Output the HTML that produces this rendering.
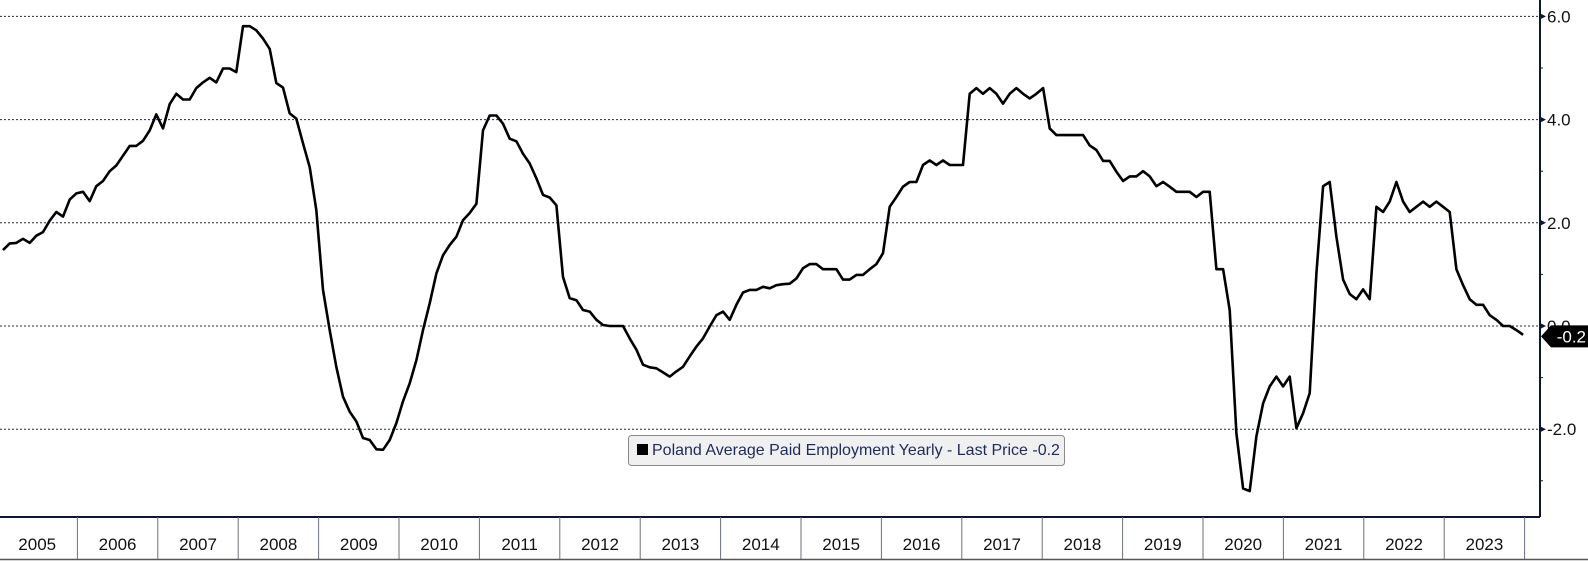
<!DOCTYPE html>
<html><head><meta charset="utf-8"><style>
html,body{margin:0;padding:0;background:#fff;}
svg{display:block;font-family:"Liberation Sans",sans-serif;}
</style></head><body>
<svg id="chart" width="1588" height="561" viewBox="0 0 1588 561" xmlns="http://www.w3.org/2000/svg">
<g id="grid"></g>
<g id="yaxis"></g>
<g id="xaxis"></g>
<path id="line" fill="none" stroke="#000" stroke-width="2.6" stroke-linejoin="round"/>
<g id="tag"></g>
<g>
<rect x="628.5" y="435.5" width="436" height="30" rx="3" fill="#f0f0f0" stroke="#8a8a8a"/>
<rect x="637" y="444" width="11" height="11" fill="#000"/>
<text x="652" y="455" font-size="16" fill="#1d2b5c">Poland Average Paid Employment Yearly - Last Price -0.2</text>
</g>
</svg>
<script>
const years = ["2005","2006","2007","2008","2009","2010","2011","2012","2013","2014","2015","2016","2017","2018","2019","2020","2021","2022","2023"];
const yTicks = [6, 4, 2, 0, -2];
const yTickLabels = ["6.0","4.0","2.0","0.0","-2.0"];
const lastValue = -0.2;
const lastLabel = "-0.2";
const values = [
1.47,1.6,1.61,1.69,1.61,1.75,1.82,2.04,2.21,2.12,2.45,2.57,
2.6,2.42,2.71,2.81,3.0,3.11,3.3,3.49,3.49,3.59,3.79,4.1,
3.83,4.3,4.5,4.39,4.39,4.61,4.72,4.81,4.72,4.99,4.99,4.92,
5.81,5.81,5.73,5.57,5.37,4.71,4.62,4.12,4.02,3.54,3.08,2.25,
0.7,-0.08,-0.79,-1.37,-1.66,-1.85,-2.17,-2.21,-2.39,-2.4,-2.21,-1.88,
-1.46,-1.11,-0.66,-0.08,0.44,1.02,1.37,1.57,1.73,2.05,2.19,2.37,
3.79,4.08,4.08,3.92,3.63,3.58,3.34,3.15,2.86,2.54,2.49,2.34,
0.95,0.54,0.5,0.31,0.28,0.12,0.02,0,0,0,-0.24,-0.46,
-0.75,-0.8,-0.82,-0.9,-0.98,-0.88,-0.79,-0.59,-0.4,-0.24,-0.01,0.21,
0.28,0.12,0.41,0.65,0.7,0.7,0.76,0.73,0.79,0.81,0.82,0.92,
1.12,1.2,1.2,1.1,1.1,1.1,0.9,0.9,0.99,0.99,1.1,1.2,
1.41,2.31,2.5,2.7,2.79,2.79,3.12,3.21,3.12,3.21,3.12,3.12,
3.12,4.5,4.61,4.5,4.61,4.5,4.31,4.5,4.61,4.5,4.41,4.5,
4.61,3.83,3.7,3.7,3.7,3.7,3.7,3.5,3.41,3.2,3.2,2.99,
2.81,2.9,2.9,3.0,2.9,2.71,2.79,2.7,2.6,2.6,2.6,2.5,
2.6,2.6,1.1,1.1,0.31,-2.08,-3.15,-3.2,-2.14,-1.5,-1.17,-0.98,
-1.17,-0.98,-1.98,-1.69,-1.3,1.02,2.71,2.79,1.73,0.9,0.62,0.52,
0.71,0.52,2.31,2.21,2.41,2.79,2.41,2.21,2.31,2.41,2.31,2.41,
2.31,2.21,1.1,0.79,0.52,0.41,0.41,0.21,0.12,0,0,-0.08,-0.17
];
const NS="http://www.w3.org/2000/svg";
const AX=1540, BOTTOM=517;
function yScale(v){return 326-51.6*v;}
function xMonth(i){return 3+6.667*i;}
function xYearStart(j){return -3+80.4*j;}
function mk(tag,attrs,parent){const e=document.createElementNS(NS,tag);for(const k in attrs)e.setAttribute(k,attrs[k]);parent.appendChild(e);return e;}
const grid=document.getElementById('grid'), yax=document.getElementById('yaxis'), xax=document.getElementById('xaxis');
// y-axis line
const axl=mk('line',{x1:AX,y1:0,x2:AX,y2:BOTTOM,stroke:'#0d1633','stroke-width':2},yax);


yTicks.forEach((t,i)=>{
  const y=yScale(t);
  const g=mk('line',{x1:0,y1:y,x2:AX,y2:y,stroke:'#1d2b5c','stroke-width':1,'stroke-dasharray':'2,2'},grid);
  
  
  const tk=mk('path',{d:`M${AX} ${y-3}L${AX+6} ${y}L${AX} ${y+3}Z`,fill:'#0d1633'},yax);
  
  
  const tx=mk('text',{x:AX+7,y:y+6,'font-size':17,fill:'#111'},yax);
  tx.textContent=yTickLabels[i];
  
  
});
for(let v=-3;v<=5;v+=2){
  const y=yScale(v);
  const mt=mk('line',{x1:AX,y1:y,x2:AX+3,y2:y,stroke:'#0d1633','stroke-width':1},yax);
  
  
}
// x axis
const bl=mk('line',{x1:0,y1:BOTTOM,x2:AX,y2:BOTTOM,stroke:'#0d1633','stroke-width':2},xax);


const bl2=mk('line',{x1:0,y1:559.5,x2:1588,y2:559.5,stroke:'#555','stroke-width':1.5},xax);


years.forEach((yr,j)=>{
  const x0=xYearStart(j), x1=xYearStart(j+1);
  const d=mk('line',{x1:x1,y1:BOTTOM,x2:x1,y2:559,stroke:'#6b6f80','stroke-width':1},xax);
  
  
  const t=mk('text',{x:(x0+x1)/2,y:550,'font-size':17,'text-anchor':'middle',fill:'#111'},xax);
  t.textContent=yr;
  
  
});
// line
document.getElementById('line').setAttribute('d',values.map((v,i)=>(i?'L':'M')+xMonth(i).toFixed(1)+' '+yScale(v).toFixed(1)).join(''));
// tag
const tg=document.getElementById('tag'); const ty=yScale(lastValue);
const tp=mk('path',{d:`M${AX+1} ${ty}L${AX+11} ${ty-11}L1588 ${ty-11}L1588 ${ty+11}L${AX+11} ${ty+11}Z`,fill:'#000'},tg);


const tt=mk('text',{x:1586,y:ty+6,'font-size':17,'text-anchor':'end',fill:'#fff'},tg);
tt.textContent=lastLabel;


</script>
</body></html>
